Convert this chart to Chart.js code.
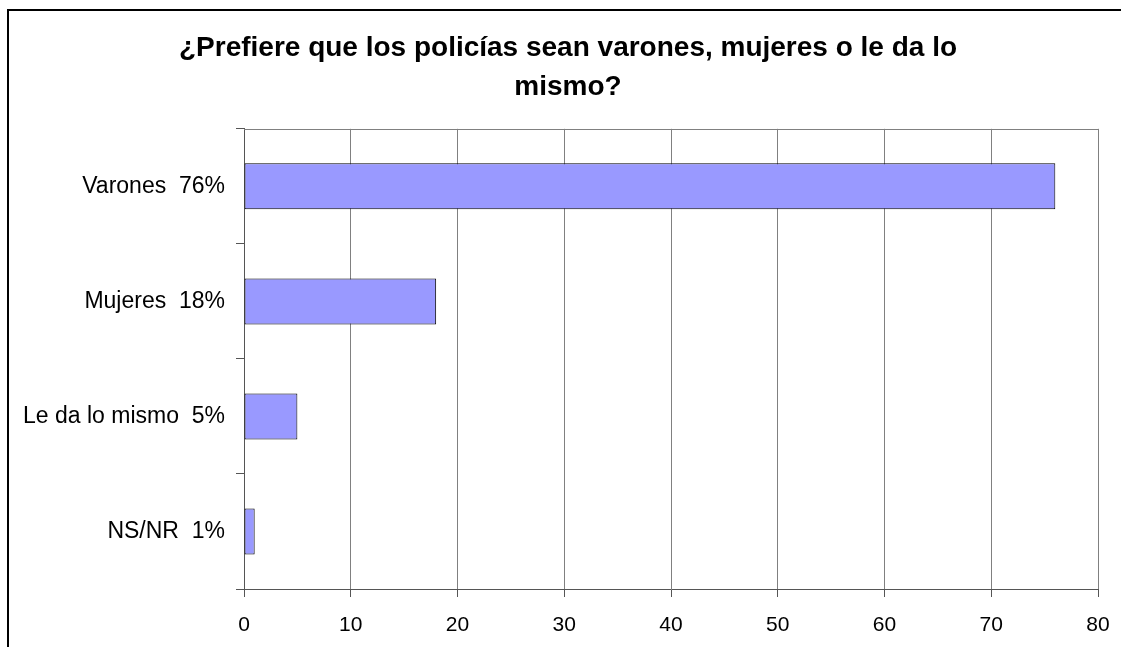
<!DOCTYPE html>
<html>
<head>
<meta charset="utf-8">
<script src="https://cdn.jsdelivr.net/npm/chart.js@4"></script>
<style>
html,body{margin:0;padding:0;background:#fff;}
#wrap{width:1121px;height:647px;}
</style>
</head>
<body>
<div id="wrap"><canvas id="c" width="1121" height="647"></canvas></div>
<script>
const categories = ['Varones  76%', 'Mujeres  18%', 'Le da lo mismo  5%', 'NS/NR  1%'];
const values = [76, 18, 5, 1];
const xTicks = [0, 10, 20, 30, 40, 50, 60, 70, 80];
const titleLines = ['¿Prefiere que los policías sean varones, mujeres o le da lo', 'mismo?'];

const FONT = "'Liberation Sans', Arial, sans-serif";

const framePlugin = {
  id: 'frame',
  afterDraw(chart) {
    const ctx = chart.ctx, a = chart.chartArea;
    ctx.save();
    ctx.strokeStyle = '#000';
    ctx.lineWidth = 2;
    ctx.beginPath();
    ctx.moveTo(8, chart.height);
    ctx.lineTo(8, 10);
    ctx.lineTo(chart.width, 10);
    ctx.stroke();
    ctx.strokeStyle = '#808080';
    ctx.lineWidth = 1;
    ctx.beginPath();
    ctx.moveTo(a.left, Math.round(a.top) + 0.5);
    ctx.lineTo(a.right, Math.round(a.top) + 0.5);
    ctx.stroke();
    ctx.restore();
  }
};

new Chart(document.getElementById('c'), {
  type: 'bar',
  data: {
    labels: categories,
    datasets: [{
      data: values,
      backgroundColor: '#9999FF',
      borderColor: '#000000',
      borderWidth: 1,
      borderSkipped: false,
      barPercentage: 0.8,
      categoryPercentage: 0.5
    }]
  },
  options: {
    indexAxis: 'y',
    responsive: false,
    animation: false,
    devicePixelRatio: 1,
    layout: { padding: { left: 15, right: 0, top: 0, bottom: 0 } },
    plugins: {
      legend: { display: false },
      tooltip: { enabled: false },
      title: {
        display: true,
        text: titleLines,
        color: '#000',
        font: { family: FONT, size: 28, weight: 'bold', lineHeight: 1.39 },
        padding: { top: 29, bottom: 22 }
      }
    },
    scales: {
      x: {
        type: 'linear',
        min: 0,
        max: 80,
        afterBuildTicks(scale) { scale.ticks = xTicks.map(v => ({ value: v })); },
        afterFit(scale) { scale.height = 58; scale.paddingLeft = 0; scale.paddingRight = 0; },
        grid: { color: '#808080', lineWidth: 1, tickLength: 8, tickColor: '#555', drawOnChartArea: true },
        border: { color: '#555', width: 1 },
        ticks: { color: '#000', font: { family: FONT, size: 21 }, padding: 16, maxRotation: 0 }
      },
      y: {
        type: 'category',
        afterFit(scale) { scale.width = 229; scale.paddingTop = 0; scale.paddingBottom = 0; },
        grid: { drawOnChartArea: false, tickLength: 8, tickColor: '#555', offset: true },
        border: { color: '#555', width: 1 },
        ticks: { color: '#000', font: { family: FONT, size: 23 }, padding: 11 }
      },
      yRight: {
        type: 'linear',
        position: 'right',
        display: true,
        afterFit(scale) { scale.width = 23; scale.paddingTop = 0; scale.paddingBottom = 0; },
        grid: { display: false, drawTicks: false },
        border: { display: false },
        ticks: { display: false }
      }
    }
  },
  plugins: [framePlugin]
});
</script>
</body>
</html>
